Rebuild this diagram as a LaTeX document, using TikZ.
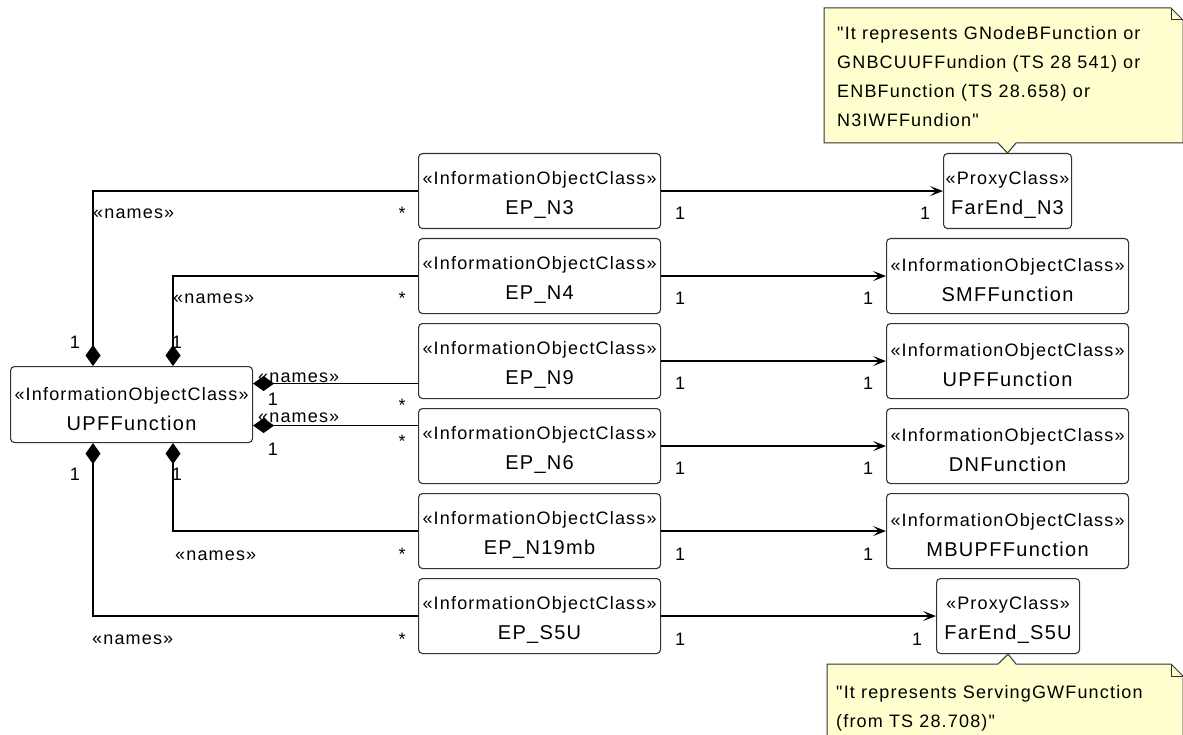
\documentclass[tikz,border=0pt]{standalone}
\usepackage{fontspec}
\setmainfont{Liberation Sans}
\newfontfamily\umlfont[LetterSpace=6.5,Ligatures=TeXOff]{Liberation Sans}
\usetikzlibrary{arrows.meta}
\definecolor{notefill}{HTML}{FEFECE}
\definecolor{boxline}{HTML}{333333}
\newcommand{\stp}{\rule{0pt}{21.5pt}}
\newcommand{\nm}[1]{{\fontsize{20}{30}\selectfont #1}}
\begin{document}
\begin{tikzpicture}[x=1pt,y=-1pt,
  cls/.style={draw=boxline, line width=1.1pt, rounded corners=4pt, fill=white,
    minimum height=75pt, align=center, inner sep=0pt,
    font=\umlfont\fontsize{18}{30}\selectfont},
  lbl/.style={inner sep=0pt, font=\umlfont\fontsize{18}{22}\selectfont},
  notetext/.style={inner sep=0pt, align=left, anchor=north west,
    font=\umlfont\fontsize{18}{29}\selectfont},
  comp/.style={line width=1.3pt, {Kite[length=21pt,width=15pt,inset=10.5pt]}-},
  assoc/.style={line width=1.3pt, -{Stealth[length=13pt,width=10pt,inset=6pt]}},
  notebox/.style={draw=boxline, fill=notefill, line width=1pt},
]
\useasboundingbox (0,0) rectangle (1183,735);

% class nodes
\node[cls, minimum width=242pt, minimum height=76pt, anchor=north west] (upf) at (10,366)
  {\stp«InformationObjectClass»\\\nm{UPFFunction}};
\node[cls, minimum width=242pt, anchor=north west] (ep3) at (418,153)
  {\stp«InformationObjectClass»\\\nm{EP\_N3}};
\node[cls, minimum width=242pt, anchor=north west] (ep4) at (418,238)
  {\stp«InformationObjectClass»\\\nm{EP\_N4}};
\node[cls, minimum width=242pt, anchor=north west] (ep9) at (418,323)
  {\stp«InformationObjectClass»\\\nm{EP\_N9}};
\node[cls, minimum width=242pt, anchor=north west] (ep6) at (418,408)
  {\stp«InformationObjectClass»\\\nm{EP\_N6}};
\node[cls, minimum width=242pt, anchor=north west] (ep19) at (418,493)
  {\stp«InformationObjectClass»\\\nm{EP\_N19mb}};
\node[cls, minimum width=242pt, anchor=north west] (eps5) at (418,578)
  {\stp«InformationObjectClass»\\\nm{EP\_S5U}};

\node[cls, minimum width=128pt, anchor=north west] (fe3) at (943,153)
  {\stp«ProxyClass»\\\nm{FarEnd\_N3}};
\node[cls, minimum width=242pt, anchor=north west] (smf) at (886,238)
  {\stp«InformationObjectClass»\\\nm{SMFFunction}};
\node[cls, minimum width=242pt, anchor=north west] (upf2) at (886,323)
  {\stp«InformationObjectClass»\\\nm{UPFFunction}};
\node[cls, minimum width=242pt, anchor=north west] (dnf) at (886,408)
  {\stp«InformationObjectClass»\\\nm{DNFunction}};
\node[cls, minimum width=242pt, anchor=north west] (mbupf) at (886,493)
  {\stp«InformationObjectClass»\\\nm{MBUPFFunction}};
\node[cls, minimum width=143pt, anchor=north west] (fes5) at (936,578)
  {\stp«ProxyClass»\\\nm{FarEnd\_S5U}};

% notes
\draw[notebox] (824,8) -- (1171,8) -- (1183,20) -- (1183,143) -- (1016,143)
  -- (fe3.north) -- (998,143) -- (824,143) -- cycle;
\draw[draw=boxline, line width=1pt] (1171,8) -- (1171,20) -- (1183,20);
\node[notetext] (note1) at (837,26)
  {"It represents GNodeBFunction or\\GNBCUUFFundion (TS 28 541) or\\ENBFunction (TS 28.658) or\\N3IWFFundion"};

\draw[notebox] (827,664) -- (998,664) -- (fes5.south) -- (1016,664) -- (1171,664)
  -- (1183,676) -- (1183,745) -- (827,745) -- cycle;
\draw[draw=boxline, line width=1pt] (1171,664) -- (1171,676) -- (1183,676);
\node[notetext] (note2) at (836,685)
  {"It represents ServingGWFunction\\(from TS 28.708)"};

% composition connectors
\coordinate (c9) at ([yshift=-22.5pt]ep9.west);
\coordinate (c6) at ([yshift=20.5pt]ep6.west);
\draw[comp] ([xshift=83pt]upf.north west) |- (ep3.west);
\draw[comp] ([xshift=163pt]upf.north west) |- (ep4.west);
\draw[comp] (c9 -| upf.east) -- (c9);
\draw[comp] (c6 -| upf.east) -- (c6);
\draw[comp] ([xshift=163pt]upf.south west) |- (ep19.west);
\draw[comp] ([xshift=83pt]upf.south west) |- (eps5.west);

% associations
\draw[assoc] (ep3.east) -- (fe3.west);
\draw[assoc] (ep4.east) -- (smf.west);
\draw[assoc] (ep9.east) -- (upf2.west);
\draw[assoc] (ep6.east) -- (dnf.west);
\draw[assoc] (ep19.east) -- (mbupf.west);
\draw[assoc] (eps5.east) -- (fes5.west);

% labels
\node[lbl, anchor=base west] (n3) at (93,219) {«names»};
\node[lbl, anchor=base] (s3) at (402,220) {*};
\node[lbl, anchor=base] (a3) at (680,220) {1};
\node[lbl, anchor=base] (b3) at (925,220) {1};

\node[lbl, anchor=base west] (n4) at (173,303) {«names»};
\node[lbl, anchor=base] (s4) at (402,305) {*};
\node[lbl, anchor=base] (a4) at (680,305) {1};
\node[lbl, anchor=base] (b4) at (868,305) {1};

\node[lbl, anchor=base] (t1) at (75,348) {1};
\node[lbl, anchor=base] (t2) at (177,348) {1};

\node[lbl, anchor=base west] (n9) at (258,382) {«names»};
\node[lbl, anchor=base] (o9) at (273,405) {1};
\node[lbl, anchor=base] (s9) at (402,411) {*};
\node[lbl, anchor=base] (a9) at (680,389) {1};
\node[lbl, anchor=base] (b9) at (868,389) {1};

\node[lbl, anchor=base west] (n6) at (258,422) {«names»};
\node[lbl, anchor=base] (o6) at (273,455) {1};
\node[lbl, anchor=base] (s6) at (402,447) {*};
\node[lbl, anchor=base] (a6) at (680,474) {1};
\node[lbl, anchor=base] (b6) at (868,474) {1};

\node[lbl, anchor=base] (u1) at (75,480) {1};
\node[lbl, anchor=base] (u2) at (177,480) {1};

\node[lbl, anchor=base west] (n19) at (175,560) {«names»};
\node[lbl, anchor=base] (s19) at (402,560) {*};
\node[lbl, anchor=base] (a19) at (680,560) {1};
\node[lbl, anchor=base] (b19) at (868,560) {1};

\node[lbl, anchor=base west] (n5) at (92,644) {«names»};
\node[lbl, anchor=base] (s5) at (402,645) {*};
\node[lbl, anchor=base] (a5) at (680,645) {1};
\node[lbl, anchor=base] (b5) at (917,645) {1};
\end{tikzpicture}
\end{document}
